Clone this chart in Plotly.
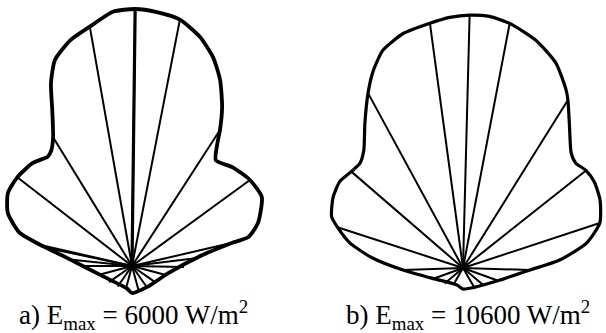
import numpy as np
import plotly.graph_objects as go
from plotly.subplots import make_subplots

# outline of the irradiance diagram a), angle from vertical (deg) and radius
theta_a = [-167, -105.7, -83, -76.4, -73.6, -66.9, -59.5, -52.3, -43.9, -37.6,
           -34.9, -31.5, -27.1, -23.9, -20.5, -15.3, -10, -4.3, 0.7, 5.6,
           11, 16.5, 21.2, 25.3, 29.5, 32.9, 35.1, 38.4, 45.6, 53.9,
           62, 71.2, 76, 77, 82.2, 101, 142.7, 180]
r_a = [23, 33, 65, 98, 117, 135, 144, 145, 143, 138,
       141, 151, 175, 200, 220, 234, 243, 255, 257, 255,
       251, 239, 224, 206, 183, 162, 148, 135, 141, 146,
       147, 133, 120, 103, 67, 37, 26, 27]

# spokes of a)
spoke_theta_a = [0.7, -10, 11, -31.5, 32.9, -52.3, 53.9, -77, -78, 77, -84, 83,
                 -90, 91, -105, 105, -125, 125, -145, 145, -165, 165]
spoke_r_a = [257, 243, 251, 151, 162, 145, 146, 94, 88, 103, 65, 66,
             50, 52, 34, 36, 28, 29, 25, 26, 24, 26]

# outline of diagram b)
theta_b = [-160.6, -106.9, -92, -83.7, -77.5, -72, -68.7, -61.3, -55, -49.2,
           -44.5, -40.1, -34.1, -28.5, -24.4, -20.2, -14.3, -7.7, -3, 1.5,
           6, 10.8, 17.8, 24.4, 30, 32, 37, 43.2, 47.1, 51.5,
           56.8, 63.6, 71.8, 78.6, 85.3, 91.7, 108, 153, 180]
r_b = [18, 34, 60, 91, 116, 132, 141, 148, 150.5, 147.5,
       147, 154, 175, 199, 217, 232, 242, 247, 251, 253,
       253, 249, 239, 225, 206, 198, 177, 158, 154, 157,
       157, 153, 144, 126, 97, 67, 39, 22, 21]

spoke_theta_b = [1.5, -7.7, 10.8, -28.5, 32, -49.2, 51.6, -72, 71.8, -92, 91.7,
                 -110, 110, -130, 130, -150, 150]
spoke_r_b = [253, 247, 249, 199, 198, 147.5, 157, 132, 144, 60, 67,
             33, 36, 24, 26, 19, 22]

labels = ["a) E<sub>max</sub> = 6000 W/m<sup>2</sup>",
          "b) E<sub>max</sub> = 10600 W/m<sup>2</sup>"]


def to_xy(theta, r):
    t = np.radians(np.asarray(theta, dtype=float))
    r = np.asarray(r, dtype=float)
    return r * np.sin(t), r * np.cos(t)


fig = make_subplots(rows=1, cols=2, horizontal_spacing=0)

panels = [(theta_a, r_a, spoke_theta_a, spoke_r_a, 3.8),
          (theta_b, r_b, spoke_theta_b, spoke_r_b, 3.2)]
for col, (th, rr, sth, sr, w) in enumerate(panels, start=1):
    sx, sy = to_xy(sth, sr)
    xs, ys = [], []
    for a, b in zip(sx, sy):
        xs += [0, a, None]
        ys += [0, b, None]
    fig.add_trace(go.Scatter(x=xs, y=ys, mode="lines",
                             line=dict(color="black", width=2),
                             hoverinfo="skip", showlegend=False), row=1, col=col)
    ox, oy = to_xy(th + th[:1], rr + rr[:1])
    fig.add_trace(go.Scatter(x=ox, y=oy, mode="lines",
                             line=dict(color="black", width=w, shape="spline",
                                       smoothing=0.6),
                             hoverinfo="skip", showlegend=False), row=1, col=col)

# the vertical spoke of a) is drawn heavier
vx, vy = to_xy([0, spoke_theta_a[0]], [0, spoke_r_a[0]])
fig.add_trace(go.Scatter(x=vx, y=vy, mode="lines", line=dict(color="black", width=3.2),
                         hoverinfo="skip", showlegend=False), row=1, col=1)

fig.update_xaxes(visible=False)
fig.update_yaxes(visible=False)
fig.update_layout(
    width=606, height=333,
    margin=dict(l=0, r=0, t=0, b=0),
    paper_bgcolor="white", plot_bgcolor="white",
    xaxis=dict(range=[-132, 171]),
    yaxis=dict(range=[-67, 266]),
    xaxis2=dict(range=[-160, 143]),
    yaxis2=dict(range=[-65, 268]),
)

for x, txt in zip([0.2195, 0.772], labels):
    fig.add_annotation(x=x, y=0.054, xref="paper", yref="paper",
                       text=txt, showarrow=False, xanchor="center", yanchor="middle",
                       borderpad=0,
                       font=dict(family="Liberation Serif", size=27, color="black"))

fig.write_html("out.html", config={"displayModeBar": False},
               post_script="document.body.style.margin='0';")
